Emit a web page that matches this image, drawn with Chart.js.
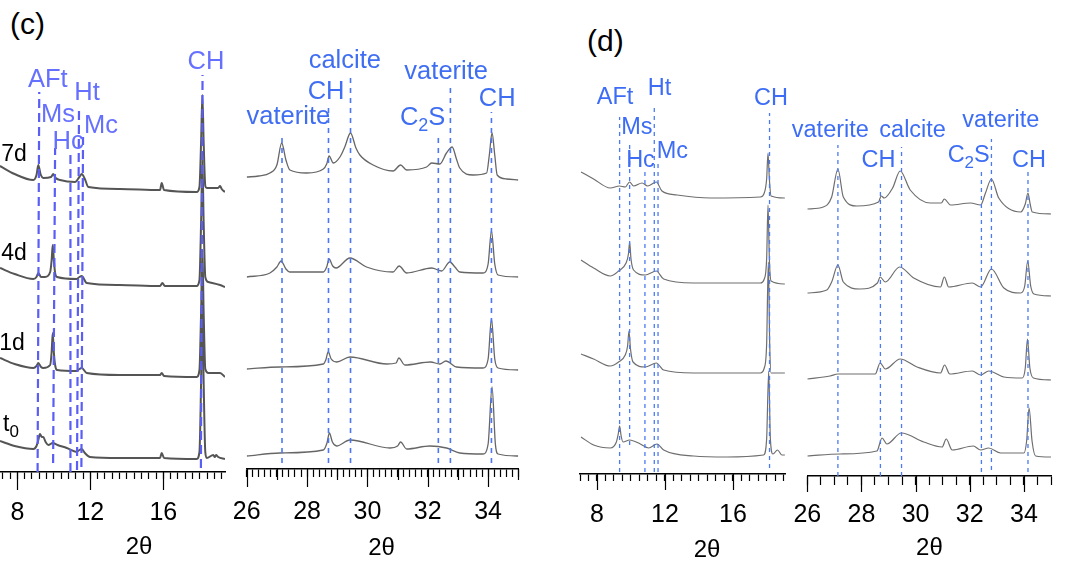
<!DOCTYPE html>
<html>
<head>
<meta charset="utf-8">
<script src="https://cdn.jsdelivr.net/npm/chart.js@4"></script>
<style>
body{margin:0;background:#fff;width:1068px;height:562px;position:relative;overflow:hidden;font-family:"Liberation Sans",Arial,sans-serif}
canvas{position:absolute;top:0}
.tag{position:absolute;font-size:30px;line-height:1;color:#000}
</style>
</head>
<body>
<div class="tag" style="left:10px;top:9px">(c)</div>
<div class="tag" style="left:587px;top:26px">(d)</div>
<canvas id="cL"></canvas>
<canvas id="cR"></canvas>
<canvas id="dL"></canvas>
<canvas id="dR"></canvas>
<script>
// ---- data: [2theta, intensity (a.u., offset per curve)] ----
// (c) low angle
const cL_7d = [[7.05,306],[7.85,298],[8.88,292],[9.05,297],[9.15,307],[9.27,298],[9.42,294],[9.85,295],[9.97,298],[10.1,294],[10.34,292],[11.16,290],[11.4,295],[11.53,298],[11.7,293],[11.89,285],[13.63,283],[15.82,282],[15.91,289],[16.04,282],[17.83,280],[17.98,285],[18.07,330],[18.14,377],[18.21,330],[18.30,286],[18.38,284],[19.0,284],[19.11,286],[19.2,283],[19.38,280]];
const cL_4d = [[7.05,204],[7.85,198],[8.88,193],[9.05,195],[9.15,199],[9.3,195],[9.52,195],[9.80,200],[9.88,212],[9.94,227],[10.0,212],[10.08,198],[10.18,195],[11.25,193],[11.4,195],[11.53,196],[11.8,189],[13.6,187],[15.82,186],[15.95,189],[16.08,186],[17.83,186],[17.98,192],[18.07,250],[18.14,312],[18.21,250],[18.30,195],[18.47,190],[19.11,187],[19.38,185]];
const cL_1d = [[7.05,114],[7.85,108],[8.88,104],[9.05,106],[9.15,109],[9.3,105],[9.42,104],[9.8,107],[9.88,120],[9.94,139],[10.0,120],[10.08,106],[10.18,102],[11.25,101],[11.4,103],[11.53,104],[11.8,99],[13.6,97],[15.82,97],[15.91,99],[16.04,96],[17.83,95],[17.98,102],[18.07,160],[18.14,222],[18.21,160],[18.30,103],[18.47,99],[19.11,99],[19.38,95]];
const cL_t0 = [[7.05,31],[7.85,26],[8.88,23],[9.05,26],[9.15,32],[9.24,38],[9.34,35],[9.42,35],[9.55,30],[9.70,27],[9.94,29],[10.2,27],[10.71,24],[11.25,20],[11.4,22],[11.53,23],[11.7,19],[11.98,15],[13.6,14],[15.82,14],[15.91,19],[16.04,14],[17.83,13],[17.98,20],[18.07,90],[18.14,170],[18.21,90],[18.30,20],[18.38,14],[18.74,17],[18.82,15],[18.89,17],[19.01,15],[19.38,13]];
// (c) high angle
const cR_7d = [[26.0,292],[26.4,293],[26.77,296],[27.0,304],[27.16,326],[27.3,309],[27.43,299],[27.99,296],[28.54,300],[28.65,305],[28.73,313],[28.87,306],[29.09,312],[29.25,322],[29.44,336],[29.62,321],[29.75,314],[30.19,304],[30.85,298],[31.10,304],[31.30,299],[31.96,302],[32.13,306],[32.40,305],[32.62,316],[32.81,322],[32.95,310],[33.06,301],[33.50,294],[33.95,296],[34.04,314],[34.13,336],[34.22,314],[34.30,294],[34.61,290],[35.0,289]];
const cR_4d = [[26.0,192],[26.77,196],[27.0,202],[27.14,208],[27.3,200],[27.43,197],[28.54,197],[28.65,202],[28.73,210],[28.85,203],[28.96,201],[29.42,211],[29.97,202],[30.85,197],[31.05,203],[31.30,196],[32.13,201],[32.46,198],[32.73,207],[32.9,202],[33.06,197],[33.83,196],[34.0,205],[34.11,238],[34.22,205],[34.33,194],[35.0,192]];
const cR_1d = [[26.0,100],[27.10,102],[28.54,105],[28.62,109],[28.70,117],[28.8,110],[28.98,107],[29.42,112],[30.64,105],[30.95,106],[31.04,111],[31.24,104],[32.09,107],[32.40,105],[32.60,108],[32.95,102],[33.83,101],[34.0,110],[34.11,150],[34.22,110],[34.33,101],[35.0,99]];
const cR_t0 = [[26.0,13],[27.10,16],[28.54,19],[28.66,26],[28.74,36],[28.84,27],[28.98,23],[29.42,29],[30.75,21],[31.0,23],[31.10,27],[31.30,20],[32.07,23],[32.62,21],[33.06,16],[33.83,15],[34.0,25],[34.13,82],[34.24,25],[34.33,15],[35.0,13]];
// (d) low angle
const dL_7d = [[7.06,302],[7.80,295],[8.78,286],[9.33,288],[9.66,287],[9.92,292],[10.15,288],[10.65,291],[10.98,288],[11.49,292],[11.82,283],[12.71,279],[14.66,276],[17.61,277],[17.84,281],[17.98,295],[18.06,321],[18.14,295],[18.24,278],[19.05,276]];
const dL_4d = [[7.06,214],[7.80,206],[8.78,198],[9.27,203],[9.71,211],[9.85,220],[9.92,232],[10.0,215],[10.15,204],[10.84,199],[11.49,203],[11.92,195],[13.68,191],[17.61,191],[17.84,195],[17.98,215],[18.06,269],[18.14,215],[18.24,193],[19.05,190]];
const dL_1d = [[7.06,120],[7.80,115],[8.78,108],[9.27,112],[9.66,119],[9.80,128],[9.88,143],[9.97,125],[10.12,112],[10.84,107],[11.49,111],[11.92,104],[13.68,101],[17.61,101],[17.84,106],[17.98,130],[18.08,212],[18.16,130],[18.24,101],[19.05,101]];
const dL_t0 = [[7.06,37],[7.80,29],[8.78,26],[9.14,32],[9.25,40],[9.33,48],[9.42,38],[9.53,32],[9.92,34],[10.55,30],[11.04,26],[11.53,30],[11.92,24],[13.68,18],[15.65,17],[17.80,19],[17.98,35],[18.10,103],[18.20,35],[18.35,20],[18.62,24],[18.88,19],[19.05,19]];
// (d) high angle
const dR_7d = [[26.0,267],[26.59,269],[26.90,279],[27.13,307],[27.33,279],[27.83,270],[28.63,274],[28.73,280],[28.84,278],[29.15,288],[29.43,305],[29.80,286],[30.54,273],[30.95,273],[31.06,277],[31.29,271],[32.03,273],[32.40,271],[32.58,283],[32.80,297],[33.07,278],[33.88,264],[34.05,272],[34.15,283],[34.23,272],[34.31,264],[35.0,262]];
const dR_4d = [[26.0,183],[26.72,186],[26.90,194],[27.13,211],[27.33,194],[27.95,187],[28.59,193],[28.69,199],[28.88,194],[29.41,209],[29.93,198],[30.92,189],[31.06,199],[31.22,189],[32.09,193],[32.40,189],[32.80,207],[33.26,188],[33.88,183],[34.03,190],[34.14,215],[34.25,190],[34.37,182],[35.0,180]];
const dR_1d = [[26.0,97],[26.84,100],[27.13,102],[28.51,102],[28.69,113],[28.88,107],[29.43,117],[30.05,109],[30.92,103],[31.07,111],[31.26,102],[32.09,105],[32.40,101],[32.70,105],[33.26,99],[33.94,98],[34.05,108],[34.13,137],[34.22,108],[34.35,98],[35.0,96]];
const dR_t0 = [[26.0,20],[27.21,22],[28.57,25],[28.76,38],[28.94,32],[29.47,43],[30.30,34],[30.98,29],[31.13,37],[31.35,26],[32.13,30],[32.40,26],[32.70,28],[33.14,23],[34.00,23],[34.1,35],[34.19,68],[34.3,35],[34.43,20],[35.0,19]];

// phase markers: name, 2theta (top / bottom), line extent, label anchor
const lowNames = ['AFt', 'Ms', 'Hc', 'Ht', 'Mc', 'CH'];
const highNames = ['vaterite', 'CH', 'calcite', 'C_2S', 'vaterite', 'CH'];

const cL_mkTop = [9.20, 10.07, 10.91, 11.38, 11.60, 18.15];
const cL_mkBot = [9.11, 9.96, 10.91, 11.27, 11.51, 18.06];
const cL_mkHi = [380, 324, 317, 365, 335, 397];
const cL_mkLo = [0, 9, 0, 2, 5, 4];
const cL_lblX = [9.67, 10.23, 10.78, 11.82, 12.59, 18.34];
const cL_lblY = [392, 357, 330, 379, 346, 410];

const cR_mk = [27.17, 28.71, 29.44, 32.35, 32.75, 34.11];
const cR_mkHi = [336, 362, 392, 334, 384, 357];
const cR_mkLo = [6, 6, 6, 6, 6, 6];
const cR_lblX = [27.38, 28.63, 29.25, 31.83, 32.61, 34.30];
const cR_lblY = [352, 377, 408, 351, 397, 370];

const dL_mk = [9.33, 9.92, 10.82, 11.37, 11.59, 18.15];
const dL_mkHi = [357, 331, 304, 366, 314, 361];
const dL_mkLo = [2, 29, 2, 2, 2, 6];
const dL_lblX = [9.06, 10.35, 10.56, 11.68, 12.43, 18.24];
const dL_lblY = [376, 346, 313, 385, 322, 375];

const dR_mk = [27.13, 28.70, 29.48, 32.43, 32.80, 34.15];
const dR_mkHi = [331, 296, 329, 304, 337, 304];
const dR_mkLo = [0, 0, 0, 4, 6, 4];
const dR_lblX = [26.85, 28.63, 29.89, 31.96, 33.15, 34.19];
const dR_lblY = [345, 315, 345, 320, 355, 315];

const curveNames = ['7d', '4d', '1d', 't_0'];
const curveLblX = [7.82, 7.82, 7.71, 7.65];
const curveLblY = [317, 218, 128, 47];

const FONT = '"Liberation Sans", Arial, sans-serif';

function isMult(v, m) {
    return Math.abs(v / m - Math.round(v / m)) < 1e-6;
}

// text with "_x" subscripts (C_2S, t_0)
function drawRich(ctx, text, cx, cy, size) {
    const segs = [];
    text.split('_').forEach((p, i) => {
        if (i == 0) { if (p) segs.push({t: p, sub: false}); return; }
        segs.push({t: p[0], sub: true});
        if (p.length > 1) segs.push({t: p.slice(1), sub: false});
    });
    let w = 0;
    segs.forEach(s => {
        ctx.font = (s.sub ? Math.round(size * 0.72) : size) + 'px ' + FONT;
        s.w = ctx.measureText(s.t).width;
        w += s.w;
    });
    let x = cx - w / 2;
    ctx.textAlign = 'left';
    ctx.textBaseline = 'middle';
    segs.forEach(s => {
        ctx.font = (s.sub ? Math.round(size * 0.72) : size) + 'px ' + FONT;
        ctx.fillText(s.t, x, s.sub ? cy + size * 0.32 : cy);
        x += s.w;
    });
}

const xrdDecor = {
    id: 'xrdDecor',
    afterDraw(chart) {
        const o = chart.options.plugins.xrdDecor;
        const sx = chart.scales.x, sy = chart.scales.y, ctx = chart.ctx;
        ctx.save();
        ctx.strokeStyle = '#000';
        ctx.lineWidth = 1.2;
        sx.ticks.forEach(t => {
            let len = 0;
            if (isMult(t.value, o.major)) len = o.majorLen;
            else if (o.medium && isMult(t.value, o.medium)) len = o.mediumLen;
            if (!len) return;
            const px = Math.round(sx.getPixelForValue(t.value)) + 0.5;
            ctx.beginPath();
            ctx.moveTo(px, sx.top);
            ctx.lineTo(px, sx.top + len);
            ctx.stroke();
        });
        ctx.fillStyle = o.labelColor;
        o.names.forEach((n, i) => {
            drawRich(ctx, n, sx.getPixelForValue(o.lblX[i]), sy.getPixelForValue(o.lblY[i]), o.labelSize);
        });
        if (o.curves) {
            ctx.fillStyle = '#000';
            o.curves.forEach((n, i) => {
                drawRich(ctx, n, sx.getPixelForValue(curveLblX[i]), sy.getPixelForValue(curveLblY[i]), 23);
            });
        }
        ctx.fillStyle = '#000';
        ctx.font = '24px ' + FONT;
        ctx.textAlign = 'center';
        ctx.textBaseline = 'middle';
        ctx.fillText('2θ', sx.getPixelForValue(o.titleAt), sx.top + o.titleDy);
        ctx.restore();
    }
};

function panel(id, c) {
    const cv = document.getElementById(id);
    cv.width = c.w;
    cv.height = 562;
    cv.style.left = c.left + 'px';
    const datasets = [];
    c.traces.forEach(tr => datasets.push({
        data: tr, borderColor: c.traceColor, borderWidth: c.traceWidth,
        pointRadius: 0, cubicInterpolationMode: 'monotone', order: 2
    }));
    c.mk.forEach((p, i) => datasets.push({
        data: [[c.mkBot ? c.mkBot[i] : p, c.mkLo[i]], [p, c.mkHi[i]]],
        borderColor: c.mkColor, borderWidth: c.mkWidth, borderDash: c.dash,
        pointRadius: 0, tension: 0, order: 1
    }));
    new Chart(cv, {
        type: 'line',
        data: {datasets: datasets},
        options: {
            responsive: false,
            animation: false,
            devicePixelRatio: 1,
            layout: {padding: {left: c.padL, right: c.padR, top: 0, bottom: 0}},
            plugins: {
                legend: {display: false},
                tooltip: {enabled: false},
                xrdDecor: {
                    major: c.major, medium: c.medium, majorLen: c.majorLen, mediumLen: c.mediumLen,
                    names: c.names, lblX: c.lblX, lblY: c.lblY, labelColor: c.labelColor,
                    labelSize: c.labelSize, curves: c.curves, titleAt: c.titleAt, titleDy: c.titleDy
                }
            },
            scales: {
                x: {
                    type: 'linear', min: c.min, max: c.max,
                    afterFit: s => { s.height = 562 - c.axisY; s.paddingLeft = 0; s.paddingRight = 0; },
                    border: {display: true, color: '#000', width: 1.5},
                    grid: {drawOnChartArea: false, drawTicks: true, tickLength: c.minorLen, tickColor: '#000', tickWidth: 1.2},
                    ticks: {
                        stepSize: c.step, autoSkip: false, maxRotation: 0, minRotation: 0, includeBounds: false,
                        padding: c.tickPad, color: '#000', font: {family: FONT, size: 25},
                        callback: v => isMult(v, c.major) ? String(Math.round(v)) : ''
                    }
                },
                y: {display: false, min: 0, max: c.axisY}
            }
        },
        plugins: [xrdDecor]
    });
}

panel('cL', {
    left: 0, w: 236, padL: 0, padR: 11, axisY: 472, min: 7.05, max: 19.38, step: 0.4,
    major: 4, medium: null, minorLen: 7, majorLen: 18, tickPad: 19,
    traces: [cL_7d, cL_4d, cL_1d, cL_t0], traceColor: '#555555', traceWidth: 2,
    mk: cL_mkTop, mkBot: cL_mkBot, mkHi: cL_mkHi, mkLo: cL_mkLo,
    mkColor: '#5a5ef5', mkWidth: 2.2, dash: [9, 5],
    names: lowNames, lblX: cL_lblX, lblY: cL_lblY, labelColor: '#6670ff', labelSize: 25.5,
    curves: curveNames, titleAt: 14.67, titleDy: 75
});
panel('cR', {
    left: 226, w: 305, padL: 20.7, padR: 12.7, axisY: 469, min: 26, max: 35, step: 0.2,
    major: 2, medium: 1, minorLen: 8, mediumLen: 11, majorLen: 18, tickPad: 20,
    traces: [cR_7d, cR_4d, cR_1d, cR_t0], traceColor: '#666666', traceWidth: 1.3,
    mk: cR_mk, mkHi: cR_mkHi, mkLo: cR_mkLo,
    mkColor: '#4a78f5', mkWidth: 1.6, dash: [5, 5],
    names: highNames, lblX: cR_lblX, lblY: cR_lblY, labelColor: '#3f6ef2', labelSize: 25.5,
    titleAt: 30.47, titleDy: 79
});
panel('dL', {
    left: 560, w: 237, padL: 20, padR: 12, axisY: 474, min: 7.0, max: 19.06, step: 0.5,
    major: 4, medium: null, minorLen: 7, majorLen: 16, tickPad: 19,
    traces: [dL_7d, dL_4d, dL_1d, dL_t0], traceColor: '#6e6e6e', traceWidth: 1.2,
    mk: dL_mk, mkHi: dL_mkHi, mkLo: dL_mkLo,
    mkColor: '#4a7af7', mkWidth: 1.3, dash: [4, 4],
    names: lowNames, lblX: dL_lblX, lblY: dL_lblY, labelColor: '#3d6df5', labelSize: 23.5,
    titleAt: 14.47, titleDy: 76
});
panel('dR', {
    left: 787, w: 279, padL: 20.3, padR: 15, axisY: 476, min: 26, max: 35, step: 0.5,
    major: 2, medium: null, minorLen: 9, majorLen: 16, tickPad: 15,
    traces: [dR_7d, dR_4d, dR_1d, dR_t0], traceColor: '#6e6e6e', traceWidth: 1.2,
    mk: dR_mk, mkHi: dR_mkHi, mkLo: dR_mkLo,
    mkColor: '#4a7af7', mkWidth: 1.3, dash: [4, 4],
    names: highNames, lblX: dR_lblX, lblY: dR_lblY, labelColor: '#3d6df5', labelSize: 23.5,
    titleAt: 30.51, titleDy: 72
});
</script>
</body>
</html>
